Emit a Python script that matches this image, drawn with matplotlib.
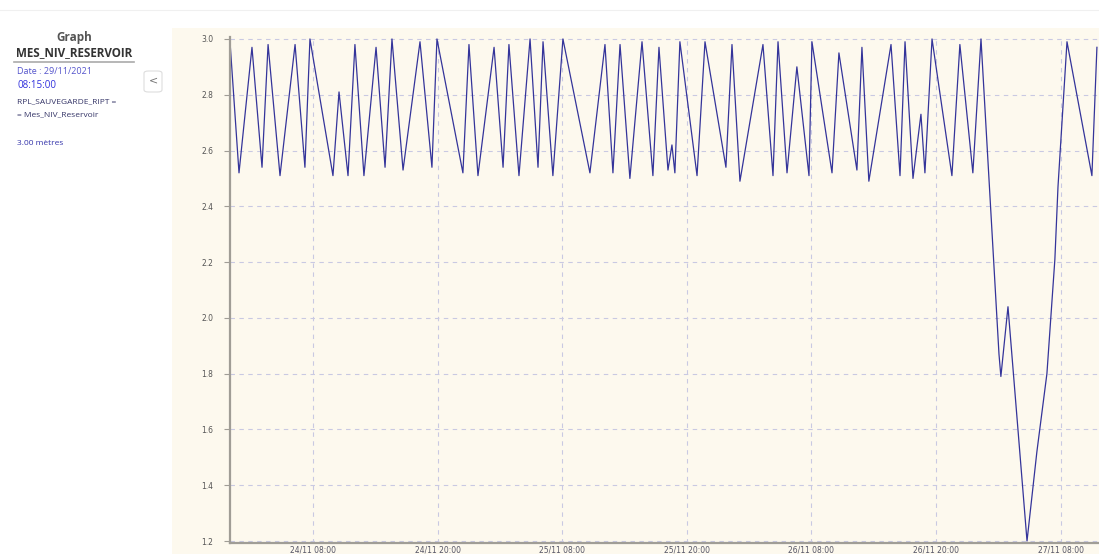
import pandas as pd
import matplotlib.pyplot as plt
import matplotlib.dates as mdates
from matplotlib.patches import Rectangle, FancyBboxPatch
from matplotlib.lines import Line2D

# reservoir level, turning points of the fill / drain cycles
times = [
    "2021-11-24 00:00", "2021-11-24 00:52", "2021-11-24 02:07", "2021-11-24 03:05",
    "2021-11-24 03:40", "2021-11-24 04:49", "2021-11-24 06:16", "2021-11-24 07:13",
    "2021-11-24 07:42", "2021-11-24 09:55", "2021-11-24 10:30", "2021-11-24 11:22",
    "2021-11-24 12:02", "2021-11-24 12:54", "2021-11-24 14:04", "2021-11-24 14:56",
    "2021-11-24 15:36", "2021-11-24 16:40", "2021-11-24 18:18", "2021-11-24 19:27",
    "2021-11-24 19:56", "2021-11-24 22:26", "2021-11-24 23:01", "2021-11-24 23:53",
    "2021-11-25 01:26", "2021-11-25 02:18", "2021-11-25 02:52", "2021-11-25 03:50",
    "2021-11-25 04:54", "2021-11-25 05:40", "2021-11-25 06:09", "2021-11-25 07:06",
    "2021-11-25 08:04", "2021-11-25 10:40", "2021-11-25 12:07", "2021-11-25 12:53",
    "2021-11-25 13:34", "2021-11-25 14:31", "2021-11-25 15:41", "2021-11-25 16:44",
    "2021-11-25 17:19", "2021-11-25 18:11", "2021-11-25 18:34", "2021-11-25 18:51",
    "2021-11-25 19:20", "2021-11-25 20:59", "2021-11-25 21:45", "2021-11-25 23:46",
    "2021-11-26 00:21", "2021-11-26 01:07", "2021-11-26 03:20", "2021-11-26 04:18",
    "2021-11-26 04:47", "2021-11-26 05:39", "2021-11-26 06:36", "2021-11-26 07:46",
    "2021-11-26 08:03", "2021-11-26 09:59", "2021-11-26 10:39", "2021-11-26 12:23",
    "2021-11-26 12:52", "2021-11-26 13:32", "2021-11-26 15:40", "2021-11-26 16:32",
    "2021-11-26 17:01", "2021-11-26 17:47", "2021-11-26 18:33", "2021-11-26 18:56",
    "2021-11-26 19:37", "2021-11-26 21:32", "2021-11-26 22:18", "2021-11-26 23:33",
    "2021-11-27 00:20", "2021-11-27 02:04", "2021-11-27 02:15", "2021-11-27 02:56",
    "2021-11-27 04:46", "2021-11-27 05:43", "2021-11-27 06:41", "2021-11-27 07:27",
    "2021-11-27 07:45", "2021-11-27 08:37", "2021-11-27 11:01", "2021-11-27 11:30",
]
levels = [
    2.99, 2.52, 2.97, 2.54,
    2.98, 2.51, 2.98, 2.54,
    3.00, 2.51, 2.81, 2.51,
    2.98, 2.51, 2.97, 2.54,
    3.00, 2.53, 2.99, 2.54,
    3.00, 2.52, 2.98, 2.51,
    2.97, 2.54, 2.98, 2.51,
    3.00, 2.54, 2.99, 2.51,
    3.00, 2.52, 2.98, 2.52,
    2.98, 2.50, 2.99, 2.51,
    2.97, 2.53, 2.62, 2.52,
    2.99, 2.51, 2.99, 2.54,
    2.98, 2.49, 2.98, 2.51,
    2.99, 2.52, 2.90, 2.51,
    2.99, 2.52, 2.95, 2.53,
    2.97, 2.49, 2.98, 2.51,
    2.99, 2.50, 2.73, 2.52,
    3.00, 2.51, 2.98, 2.52,
    3.00, 1.87, 1.79, 2.04,
    1.20, 1.52, 1.80, 2.21,
    2.47, 2.99, 2.51, 2.97,
]
y_ticks = [1.2, 1.4, 1.6, 1.8, 2.0, 2.2, 2.4, 2.6, 2.8, 3.0]
x_start = "2021-11-24 00:00"
x_end = "2021-11-27 11:42"

W, H = 1099, 554


def px(x, y):
    return x / W, 1 - y / H


fig = plt.figure(figsize=(W / 100, H / 100), dpi=100)
fig.patch.set_facecolor("white")

# cream panel behind the chart
fig.patches.append(Rectangle(px(172, H), (W - 172) / W, (H - 28) / H,
                             transform=fig.transFigure, facecolor="#fdf9ee",
                             edgecolor="none", zorder=-5))
fig.lines.append(Line2D([0, 1], [1 - 10 / H] * 2, transform=fig.transFigure,
                        color="#f0f0f0", lw=0.8, zorder=-5))

ax = fig.add_axes([230 / W, 11 / H, (W - 230) / W, 506 / H])
ax.set_facecolor("none")
ax.set_zorder(2)

t = pd.to_datetime(times)
ax.plot(t, levels, color="#34349a", lw=0.9, solid_joinstyle="round")

ax.set_ylim(1.193, 3.007)
ax.set_xlim(pd.Timestamp(x_start), pd.Timestamp(x_end))
ax.set_yticks(y_ticks)
ax.set_yticklabels([f"{v:.1f}" for v in y_ticks])
ax.xaxis.set_major_locator(mdates.HourLocator(byhour=[8, 20]))
ax.xaxis.set_major_formatter(mdates.DateFormatter("%d/%m %H:%M"))

ax.grid(True, color="#c9c9e2", ls=(0, (4, 4)), lw=0.8)
ax.set_axisbelow(True)
for s in ["top", "right"]:
    ax.spines[s].set_visible(False)
for s in ["left", "bottom"]:
    ax.spines[s].set_color("#a09d96")
    ax.spines[s].set_linewidth(1.6)
ax.tick_params(axis="y", labelsize=5.5, colors="#a09d96", labelcolor="#555555",
               length=4, width=0.8, pad=8)
ax.tick_params(axis="x", labelsize=5.5, colors="#a09d96", labelcolor="#555566",
               length=0, pad=2)

# side panel
fig.text(*px(74, 37), "Graph", ha="center", va="center", fontsize=8.5,
         fontweight="bold", color="#555555", family="Open Sans")
fig.text(*px(74, 53), "MES_NIV_RESERVOIR", ha="center", va="center", fontsize=8.4,
         fontweight="bold", color="#333333", family="Open Sans")
fig.lines.append(Line2D([14 / W, 134 / W], [1 - 62 / H] * 2, transform=fig.transFigure,
                        color="#aaaaaa", lw=1.2))
fig.text(*px(17, 71), "Date : 29/11/2021", ha="left", va="center", fontsize=6.5,
         color="#5555cc", family="Open Sans")
fig.text(*px(17, 85), "08:15:00", ha="left", va="center", fontsize=7,
         color="#3030dd", family="Open Sans")
fig.text(*px(17, 102), "RPL_SAUVEGARDE_RIPT =", ha="left", va="center", fontsize=6,
         color="#333366", family="Open Sans")
fig.text(*px(17, 115), "= Mes_NIV_Reservoir", ha="left", va="center", fontsize=6,
         color="#333366", family="Open Sans")
fig.text(*px(17, 144), "3.00 mètres", ha="left", va="center", fontsize=6,
         color="#3333aa", family="Open Sans")

fig.patches.append(FancyBboxPatch(px(144, 92), 18 / W, 21 / H,
                                  boxstyle="round,pad=0,rounding_size=0.004",
                                  transform=fig.transFigure, facecolor="white",
                                  edgecolor="#dddddd", lw=0.8))
fig.text(*px(153, 80), "<", ha="center", va="center", fontsize=8,
         color="#777777", family="DejaVu Sans")

fig.savefig("out.png", dpi=100)
